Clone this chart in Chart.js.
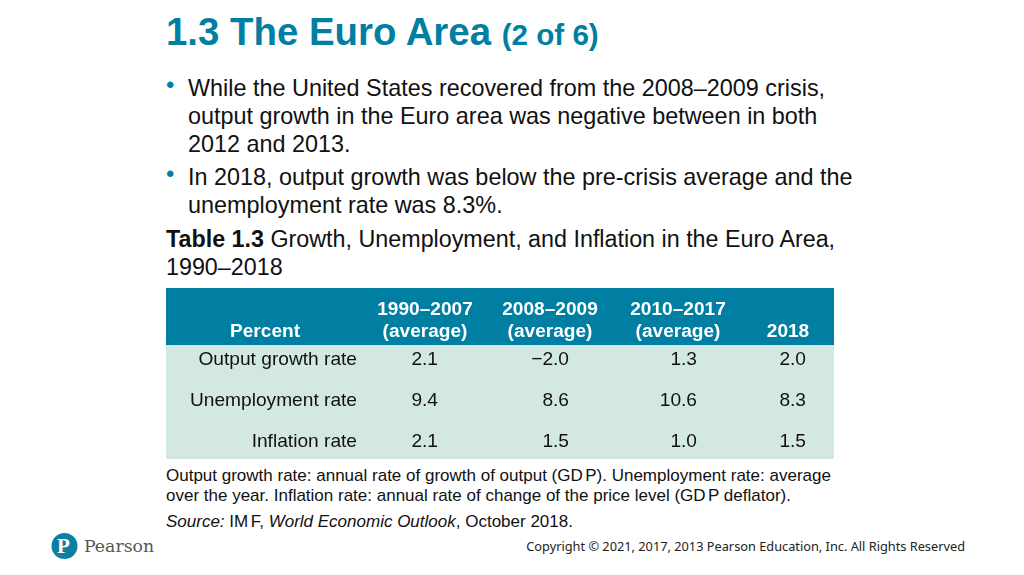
<!DOCTYPE html>
<html><head><meta charset="utf-8">
<script src="https://cdn.jsdelivr.net/npm/chart.js@4"></script>
<style>
html,body{margin:0;padding:0;background:#fff;width:1024px;height:575px;overflow:hidden}
body{position:relative;font-family:"Liberation Sans",Arial,sans-serif;color:#111}
.t{position:absolute;white-space:nowrap}
#chart{position:absolute;left:166px;top:288px}
</style></head><body>
<div class="t" style="left:166px;top:10px;font-size:38.4px;line-height:44px;font-weight:700;color:#007fa3">1.3 The Euro Area <span style="font-size:29.6px">(2 of 6)</span></div>
<div class="t" style="left:166px;top:71px;font-size:24px;line-height:28px;color:#007fa3">•</div>
<div class="t" style="left:188px;top:74px;font-size:23.4px;line-height:28px">While the United States recovered from the 2008–2009 crisis,<br>output growth in the Euro area was negative between in both<br>2012 and 2013.</div>
<div class="t" style="left:166px;top:160px;font-size:24px;line-height:28px;color:#007fa3">•</div>
<div class="t" style="left:188px;top:163px;font-size:23.4px;line-height:28px">In 2018, output growth was below the pre-crisis average and the<br>unemployment rate was 8.3%.</div>
<div class="t" style="left:166px;top:225px;font-size:23.3px;line-height:28px"><b>Table 1.3</b> Growth, Unemployment, and Inflation in the Euro Area,<br>1990–2018</div>
<canvas id="chart" width="668" height="171"></canvas>
<div class="t" style="left:166px;top:465px;font-size:17px;line-height:20px;margin-top:0.5px">Output growth rate: annual rate of growth of output (GD<span style="margin-left:2.5px">P</span>). Unemployment rate: average<br>over the year. Inflation rate: annual rate of change of the price level (GD<span style="margin-left:2.5px">P</span> deflator).</div>
<div class="t" style="left:166px;top:512px;font-size:17px;line-height:20px"><i>Source:</i> IM<span style="margin-left:2.5px">F</span>, <i>World Economic Outlook</i>, October 2018.</div>
<svg style="position:absolute;left:51px;top:533px" width="27" height="26"><circle cx="13.5" cy="13" r="13" fill="#0d7fa5"/></svg>
<div class="t" style="left:57px;top:533px;font:700 21px/26px 'Liberation Serif',serif;color:#fff">P</div>
<div class="t" style="left:84px;top:535px;font:17.3px/22px 'DejaVu Serif',serif;color:#555">Pearson</div>
<div class="t" style="right:59px;top:537px;font:12.78px/18px 'Noto Sans',sans-serif;color:#222">Copyright © 2021, 2017, 2013 Pearson Education, Inc. All Rights Reserved</div>
<script>
const rowNames = ['Output growth rate', 'Unemployment rate', 'Inflation rate'];
const columnHeads = [['1990–2007', '(average)'], ['2008–2009', '(average)'], ['2010–2017', '(average)'], ['2018']];
const outputGrowth = [2.1, -2.0, 1.3, 2.0];
const unemployment = [9.4, 8.6, 10.6, 8.3];
const inflation = [2.1, 1.5, 1.0, 1.5];
const series = [outputGrowth, unemployment, inflation];

const columnRight = [272, 403, 531, 640];
const columnHeadCentre = [259, 384, 512, 622];
const fmt = v => v.toFixed(1).replace('-', '−');

const tablePlugin = {
  id: 'table',
  beforeDatasetsDraw(c) {
    const g = c.ctx, y = c.scales.y, a = c.chartArea;
    const split = Math.round(y.getPixelForValue(-0.365));
    g.fillStyle = '#d4e8e3'; g.fillRect(a.left, split, a.right - a.left, a.bottom - split);
    g.fillStyle = '#007fa3'; g.fillRect(a.left, a.top, a.right - a.left, split - a.top);
  },
  afterDatasetsDraw(c) {
    const g = c.ctx, x = c.scales.x, y = c.scales.y;
    g.save();
    g.textBaseline = 'middle';
    g.fillStyle = '#111'; g.font = '19.15px "Liberation Sans"';
    series.forEach((_, d) => {
      c.getDatasetMeta(d).data.forEach((pt, i) => {
        g.textAlign = 'right';
        g.fillText(fmt(series[d][i]), pt.x, pt.y);
      });
      g.textAlign = 'right';
      g.fillText(rowNames[d], x.getPixelForValue(191), y.getPixelForValue(d));
    });
    g.fillStyle = '#fff'; g.font = 'bold 19.1px "Liberation Sans"';
    g.textAlign = 'center';
    g.fillText('Percent', x.getPixelForValue(99), y.getPixelForValue(-0.69));
    columnHeads.forEach((lines, i) => {
      const px = x.getPixelForValue(columnHeadCentre[i]);
      if (lines.length === 2) {
        g.fillText(lines[0], px, y.getPixelForValue(-1.22));
        g.fillText(lines[1], px, y.getPixelForValue(-0.69));
      } else {
        g.fillText(lines[0], px, y.getPixelForValue(-0.69));
      }
    });
    g.restore();
  }
};

new Chart(document.getElementById('chart'), {
  type: 'scatter',
  data: { datasets: series.map((vals, r) => ({
    label: rowNames[r],
    data: vals.map((_, i) => ({ x: columnRight[i], y: r })),
    pointRadius: 0
  })) },
  options: {
    responsive: false, animation: false, devicePixelRatio: 1,
    layout: { padding: 0 },
    plugins: { legend: { display: false }, tooltip: { enabled: false } },
    scales: {
      x: { type: 'linear', min: 0, max: 668, display: false },
      y: { type: 'linear', min: -1.757, max: 2.414, reverse: true, display: false }
    }
  },
  plugins: [tablePlugin]
});
</script>
</body></html>
